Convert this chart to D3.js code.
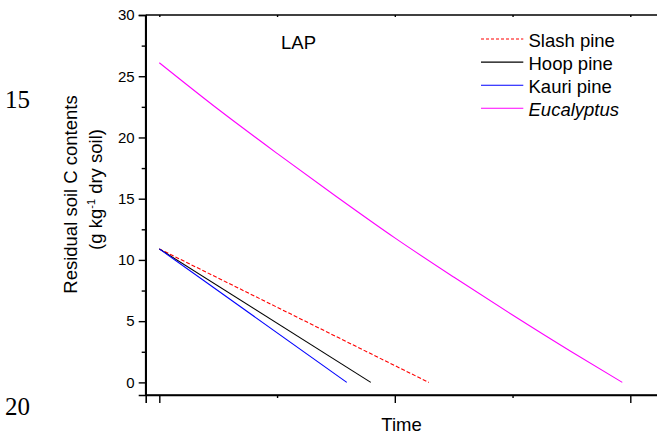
<!DOCTYPE html>
<html><head><meta charset="utf-8">
<script src="https://cdn.jsdelivr.net/npm/d3@7"></script>
<style>body{margin:0;background:#fff}svg{display:block}</style>
</head><body>
<script>
// ---- data ----
const seriesNames = ["Slash pine", "Hoop pine", "Kauri pine", "Eucalyptus"];
const slashTime = [0, 1.144];
const slashC = [10.9, 0];
const hoopTime = [0, 0.898];
const hoopC = [10.9, 0];
const kauriTime = [0, 0.796];
const kauriC = [10.9, 0];
const eucTime = [0, 0.25, 0.5, 0.75, 1.0, 1.25, 1.5, 1.75, 1.966];
const eucC = [26.1, 22.3, 18.7, 15.2, 11.8, 8.6, 5.5, 2.5, 0];
const yTicks = [0, 5, 10, 15, 20, 25, 30];
const yMinorTicks = [2.5, 7.5, 12.5, 17.5, 22.5, 27.5];
const xTicks = [0, 1, 2];
const xMinorTicks = [0.5, 1.5];
const panelLabel = "LAP";
const xLabel = "Time";
const lineNumbers = ["15", "20"];

const W = 657, H = 439;
const svg = d3.select("body").append("svg").attr("width", W).attr("height", H);
const font = "'Liberation Sans', Arial, sans-serif";

const pLeft = 145.7, pRight = 700, pTop = 15, pBottom = 395;
const x = d3.scaleLinear().domain([-0.0578, (pRight - 159.3) / 235.5]).range([pLeft, pRight]);
const y = d3.scaleLinear().domain([-1.03, 30]).range([pBottom, pTop]);

// line numbers at left margin
svg.append("text").attr("x", 5).attr("y", 108).attr("font-family", "'Liberation Serif', 'Times New Roman', serif")
  .attr("font-size", 25).text(lineNumbers[0]);
svg.append("text").attr("x", 5).attr("y", 415).attr("font-family", "'Liberation Serif', 'Times New Roman', serif")
  .attr("font-size", 25).text(lineNumbers[1]);

// axes
const axisColor = "#000";
const yAxis = d3.axisLeft(y).tickValues(yTicks).tickSize(7).tickPadding(4);
const gy = svg.append("g").attr("transform", `translate(${pLeft},0)`).call(yAxis);
const yMinor = d3.axisLeft(y).tickValues(yMinorTicks).tickSize(4).tickFormat("");
svg.append("g").attr("transform", `translate(${pLeft},0)`).call(yMinor).call(g => g.select(".domain").remove());
gy.selectAll("text").attr("font-family", font).attr("font-size", 15).attr("fill", "#000");

const xAxis = d3.axisBottom(x).tickValues(xTicks).tickSize(8).tickFormat("");
svg.append("g").attr("transform", `translate(0,${pBottom})`).call(xAxis);
const xMinor = d3.axisBottom(x).tickValues(xMinorTicks).tickSize(3).tickFormat("");
svg.append("g").attr("transform", `translate(0,${pBottom})`).call(xMinor).call(g => g.select(".domain").remove());
const xTop = d3.axisBottom(x).tickValues(xTicks.concat(xMinorTicks)).tickSize(2).tickFormat("");
svg.append("g").attr("transform", `translate(0,${pTop})`).call(xTop).call(g => g.select(".domain").remove());

svg.selectAll(".domain").attr("stroke-width", 1.6).attr("stroke", axisColor);
svg.selectAll(".tick line").attr("stroke-width", 1.4).attr("stroke", axisColor);
// frame lines
svg.append("line").attr("x1", pLeft).attr("x2", pRight).attr("y1", pTop).attr("y2", pTop)
  .attr("stroke", axisColor).attr("stroke-width", 1.6);
svg.append("line").attr("x1", pLeft).attr("x2", pLeft).attr("y1", pTop).attr("y2", pBottom)
  .attr("stroke", axisColor).attr("stroke-width", 1.6);
svg.append("line").attr("x1", pLeft).attr("x2", pRight).attr("y1", pBottom).attr("y2", pBottom)
  .attr("stroke", axisColor).attr("stroke-width", 1.6);

// series lines
const series = [
  {name: seriesNames[0], t: slashTime, v: slashC, color: "#ff0000", dash: "4,2"},
  {name: seriesNames[1], t: hoopTime, v: hoopC, color: "#000000", dash: null},
  {name: seriesNames[2], t: kauriTime, v: kauriC, color: "#0000ff", dash: null},
  {name: seriesNames[3], t: eucTime, v: eucC, color: "#ff00ff", dash: null, italic: true}
];
const line = d3.line().x(d => x(d[0])).y(d => y(d[1])).curve(d3.curveMonotoneX);
[series[3], series[0], series[1], series[2]].forEach(s => {
  svg.append("path").datum(s.t.map((t, i) => [t, s.v[i]]))
    .attr("d", line).attr("fill", "none").attr("stroke", s.color).attr("stroke-width", 1.1)
    .attr("stroke-dasharray", s.dash);
});

// panel label
svg.append("text").attr("x", 281).attr("y", 49.3).attr("font-family", font).attr("font-size", 18.5).text(panelLabel);

// legend
series.forEach((s, i) => {
  const ly = 39 + i * 23.1;
  svg.append("line").attr("x1", 481).attr("x2", 523.3).attr("y1", ly).attr("y2", ly)
    .attr("stroke", s.color).attr("stroke-width", 1.1).attr("stroke-dasharray", s.dash ? "3,2" : null);
  svg.append("text").attr("x", 528.5).attr("y", ly + 7.5).attr("font-family", font).attr("font-size", 18.5)
    .attr("font-style", s.italic ? "italic" : null).text(s.name);
});

// x label
svg.append("text").attr("x", 401.5).attr("y", 430.7).attr("text-anchor", "middle")
  .attr("font-family", font).attr("font-size", 18.5).text(xLabel);

// y label
svg.append("text").attr("transform", "translate(77,194.5) rotate(-90)").attr("text-anchor", "middle")
  .attr("font-family", font).attr("font-size", 18.5).text("Residual soil C contents");
const t2 = svg.append("text").attr("transform", "translate(102,189.5) rotate(-90)").attr("text-anchor", "middle")
  .attr("font-family", font).attr("font-size", 18.5);
t2.append("tspan").text("(g kg");
t2.append("tspan").attr("font-size", 11).attr("dy", -7).text("-1");
t2.append("tspan").attr("dy", 7).text(" dry soil)");
</script>
</body></html>
